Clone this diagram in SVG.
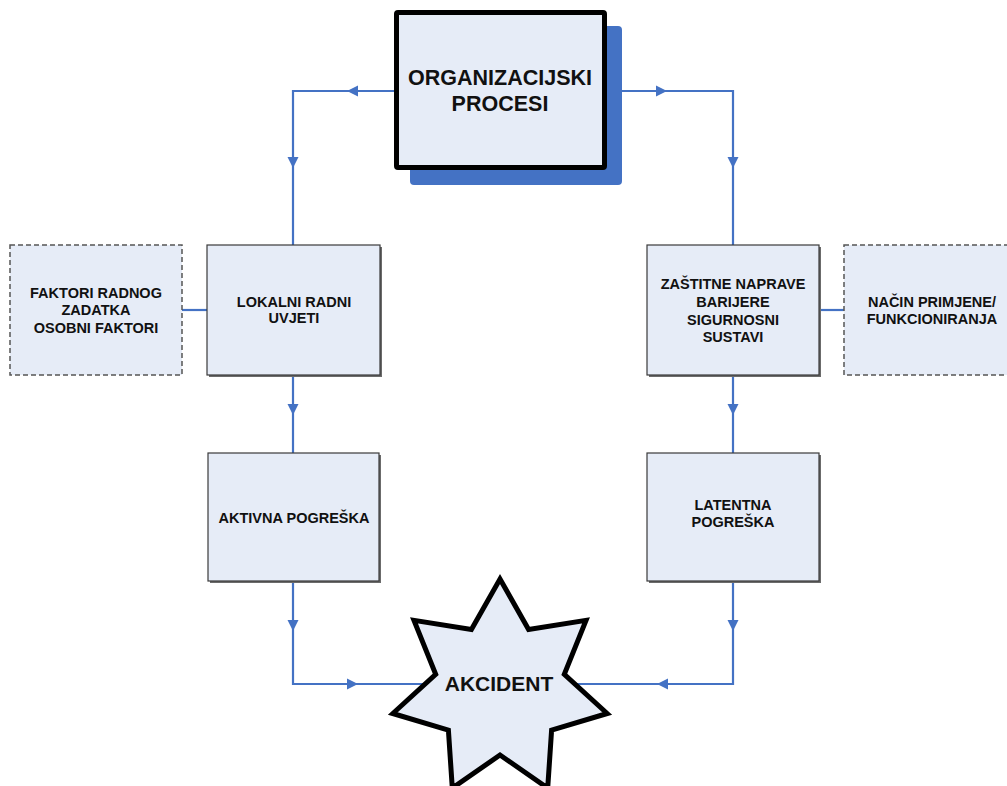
<svg xmlns="http://www.w3.org/2000/svg" xmlns:xlink="http://www.w3.org/1999/xlink" width="1007" height="786" viewBox="0 0 1007 786">
  <style>
    text { font-family: "Liberation Sans", Arial, sans-serif; font-weight: bold; fill: #111; text-anchor: middle; }
    .lbl { font-size: 14.5px; }
    .big { font-size: 21.5px; }
    .box { fill: #E6ECF7; stroke: #3a3a3a; stroke-width: 1.2; }
    .shadow { fill: #6b6b6b; }
    .dash { fill: #E6ECF7; stroke: #555; stroke-width: 1.5; stroke-dasharray: 5 3; }
    .wire { fill: none; stroke: #4472C4; stroke-width: 2.2; }
    .head { fill: #4472C4; }
  </style>
  <defs>
    <!-- arrowhead pointing along +x, tip at origin -->
    <path id="ah" d="M0,0 L-11,-5.5 L-11,5.5 Z"/>
  </defs>

  <!-- connectors -->
  <g id="connectors">
    <path class="wire" d="M396,91 H293 V245"/>
    <path class="wire" d="M604,91 H733 V245"/>
    <path class="wire" d="M293,375 V453"/>
    <path class="wire" d="M733,375 V453"/>
    <path class="wire" d="M293,581 V684 H430"/>
    <path class="wire" d="M733,581 V684 H570"/>
    <path class="wire" d="M182,310 H207"/>
    <path class="wire" d="M819,310 H844"/>
    <g class="head">
      <use xlink:href="#ah" transform="translate(347,91) rotate(180)"/>
      <use xlink:href="#ah" transform="translate(293,168) rotate(90)"/>
      <use xlink:href="#ah" transform="translate(667,91)"/>
      <use xlink:href="#ah" transform="translate(733,168) rotate(90)"/>
      <use xlink:href="#ah" transform="translate(293,415) rotate(90)"/>
      <use xlink:href="#ah" transform="translate(733,415) rotate(90)"/>
      <use xlink:href="#ah" transform="translate(293,631) rotate(90)"/>
      <use xlink:href="#ah" transform="translate(358,684)"/>
      <use xlink:href="#ah" transform="translate(733,631) rotate(90)"/>
      <use xlink:href="#ah" transform="translate(657,684) rotate(180)"/>
    </g>
  </g>

  <g id="organizacijski-procesi">
    <rect x="410" y="26" width="212" height="159" rx="4" fill="#4472C4"/>
    <rect x="396.5" y="12.5" width="208" height="155" rx="1.5" fill="#E6ECF7" stroke="#000" stroke-width="5"/>
    <text class="big" x="500" y="85">ORGANIZACIJSKI</text>
    <text class="big" x="500" y="111">PROCESI</text>
  </g>

  <g id="faktori">
    <rect class="dash" x="10" y="245" width="172" height="130"/>
    <text class="lbl" x="96" y="297.5">FAKTORI RADNOG</text>
    <text class="lbl" x="96" y="315">ZADATKA</text>
    <text class="lbl" x="96" y="332.5">OSOBNI FAKTORI</text>
  </g>

  <g id="lokalni-uvjeti">
    <rect class="shadow" x="209" y="247" width="173" height="130"/>
    <rect class="box" x="207" y="245" width="173" height="130"/>
    <text class="lbl" x="294" y="307">LOKALNI RADNI</text>
    <text class="lbl" x="294" y="323">UVJETI</text>
  </g>

  <g id="zastitne-naprave">
    <rect class="shadow" x="649" y="247" width="172" height="130"/>
    <rect class="box" x="647" y="245" width="172" height="130"/>
    <text class="lbl" x="733" y="289">ZAŠTITNE NAPRAVE</text>
    <text class="lbl" x="733" y="307">BARIJERE</text>
    <text class="lbl" x="733" y="325">SIGURNOSNI</text>
    <text class="lbl" x="733" y="342">SUSTAVI</text>
  </g>

  <g id="nacin-primjene">
    <rect class="dash" x="844" y="245" width="175" height="130"/>
    <text class="lbl" x="932" y="307">NAČIN PRIMJENE/</text>
    <text class="lbl" x="932" y="323.5">FUNKCIONIRANJA</text>
  </g>

  <g id="aktivna-pogreska">
    <rect class="shadow" x="210" y="455" width="171" height="128"/>
    <rect class="box" x="208" y="453" width="171" height="128"/>
    <text class="lbl" x="294" y="523">AKTIVNA POGREŠKA</text>
  </g>

  <g id="latentna-pogreska">
    <rect class="shadow" x="649" y="455" width="172" height="128"/>
    <rect class="box" x="647" y="453" width="172" height="128"/>
    <text class="lbl" x="733" y="510">LATENTNA</text>
    <text class="lbl" x="733" y="527">POGREŠKA</text>
  </g>

  <g id="akcident">
    <polygon points="500,579 528.6,629.5 586,620.4 564.3,674.3 607.2,713.5 551.6,730.2 547.7,788.1 500,755 452.3,788.1 448.4,730.2 392.8,713.5 435.7,674.3 414,620.4 471.4,629.5"
             fill="#E6ECF7" stroke="#000" stroke-width="5" stroke-linejoin="miter"/>
    <text x="499" y="691" style="font-size:21px">AKCIDENT</text>
  </g>
</svg>
